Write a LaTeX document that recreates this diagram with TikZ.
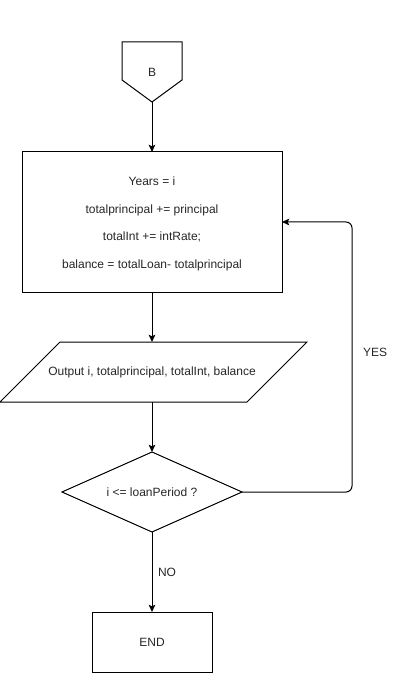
\documentclass[tikz,border=0pt]{standalone}
\usepackage{fontspec}
\setmainfont{Liberation Sans}
\usetikzlibrary{shapes.geometric,arrows.meta}
\begin{document}
\begin{tikzpicture}[x=0.75pt,y=-0.75pt,
  every node/.style={font=\fontsize{9}{11}\selectfont, text=black!85},
  line/.style={draw=black, line width=0.75pt},
  arr/.style={line, -{Stealth[length=5.5pt,width=5pt,inset=1.2pt]}},
  procbox/.style={line, rectangle, minimum width=195pt, minimum height=105pt, inner sep=0pt, outer sep=0pt},
  endbox/.style={line, rectangle, minimum width=90pt, minimum height=45pt, inner sep=0pt, outer sep=0pt},
  decbox/.style={line, diamond, minimum width=135pt, minimum height=60pt, inner sep=0pt, outer sep=0pt, aspect=2.25},
  lbl/.style={inner sep=0pt}]
\useasboundingbox (0,0) rectangle (402,673);
% off-page connector B
\draw[line, line join=miter] (122,42) -- (182,42) -- (182,80) -- (152,102) -- (122,80) -- cycle;
\node[lbl] (B) at (152,72) {B};
\coordinate (Bbot) at (152,102);
% process box
\node[procbox] (proc) at (152,222) {};
\node[lbl, align=center, font=\fontsize{9}{20.7}\selectfont] (proctext) at (152,224)
  {Years = i\\totalprincipal += principal\\totalInt += intRate;\\balance = totalLoan- totalprincipal};
% output parallelogram
\draw[line, line join=miter] (60,342) -- (307,342) -- (247,402) -- (0,402) -- cycle;
\node[lbl] (out) at (152,372) {Output i, totalprincipal, totalInt, balance};
\coordinate (outtop) at (152,342);
\coordinate (outbot) at (152,402);
% decision
\node[decbox] (dec) at (152,492) {i <= loanPeriod ?};
% end
\node[endbox] (end) at (152,642) {END};
% connectors
\draw[arr] (Bbot) -- (proc.north);
\draw[arr] (proc.south) -- (outtop);
\draw[arr] (outbot) -- (dec.north);
\draw[arr] (dec.south) -- (end.north);
\coordinate (c1) at (352,492);
\coordinate (c2) at (352,222);
\draw[arr, rounded corners=4.5pt] (dec.east) -- (c1) -- (c2) -- (proc.east);
\node[lbl] (yes) at (375,352) {YES};
\node[lbl] (no) at (167,572) {NO};
\end{tikzpicture}
\end{document}
